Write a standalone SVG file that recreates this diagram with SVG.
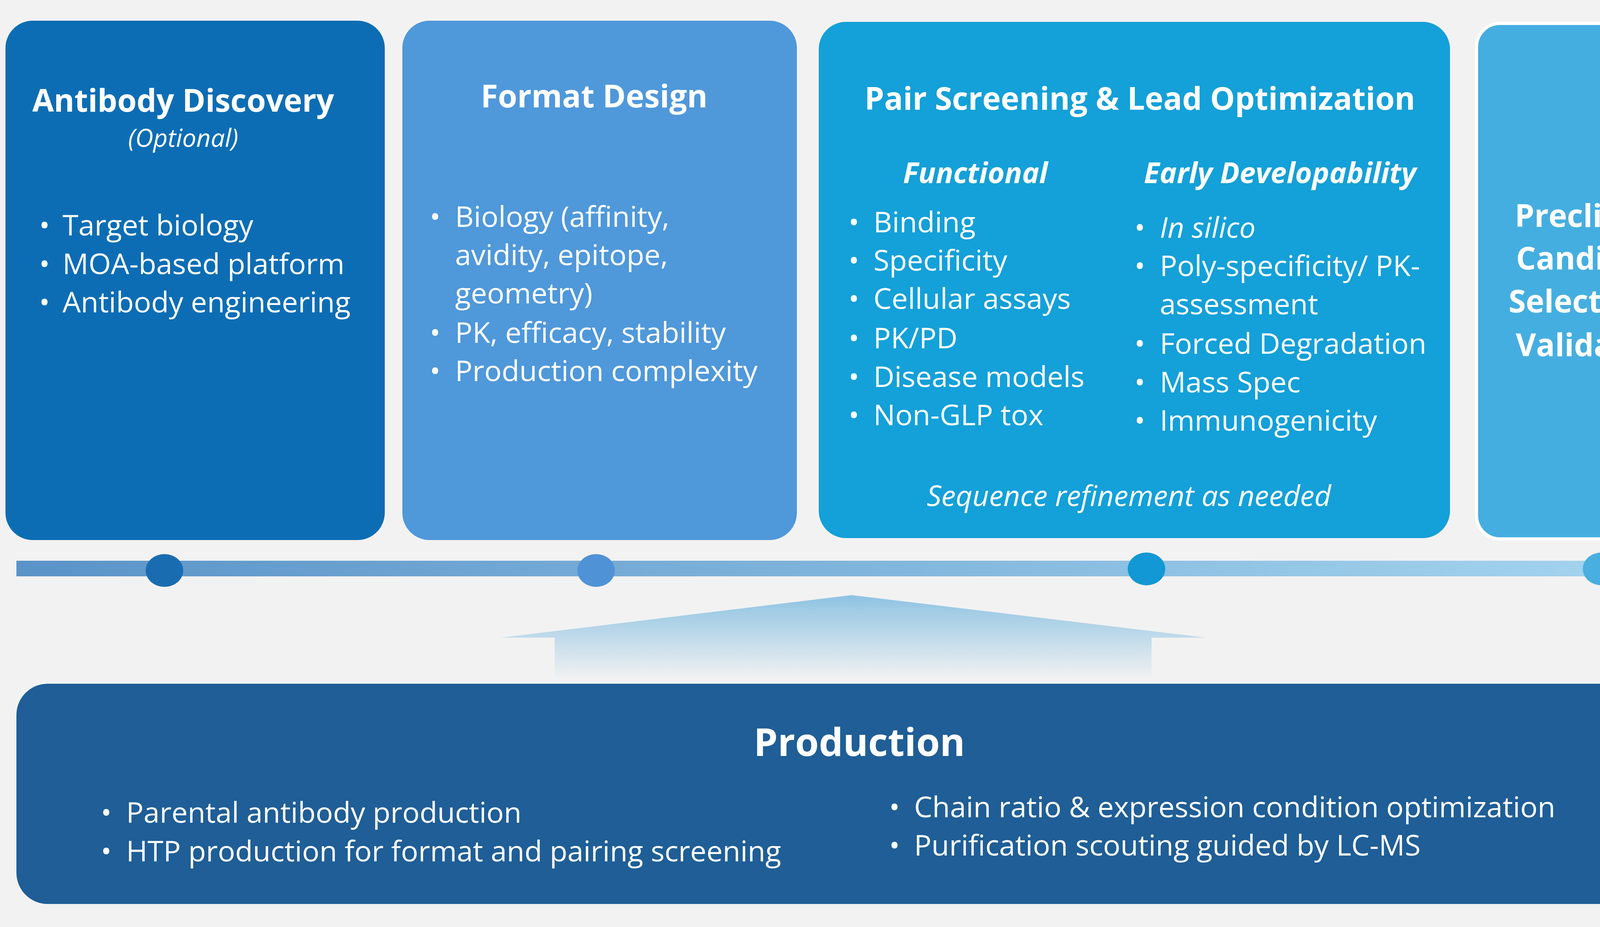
<svg xmlns="http://www.w3.org/2000/svg" width="4400" height="2374" viewBox="0 0 4400 2374">
<style>
text{font-family:"Open Sans","Noto Sans",sans-serif;fill:#fff}
.t{font-weight:bold;font-size:80px;text-anchor:middle}
.b{font-size:74px}
.i{font-style:italic}
.h{font-weight:bold;font-style:italic;font-size:74px;text-anchor:middle}
</style>
<defs>
<linearGradient id="tl" x1="0" x2="1"><stop offset="0" stop-color="#5A93C8"/><stop offset="1" stop-color="#A6D6EF"/></linearGradient>
<linearGradient id="up" x1="0" y1="0" x2="0" y2="1"><stop offset="0" stop-color="#8EC3E2"/><stop offset="1" stop-color="#F2F2F2"/></linearGradient>
</defs>
<rect width="4400" height="2374" fill="#F2F2F2"/>
<g id="connectors">
<rect x="42" y="1436" width="4250" height="40" fill="url(#tl)"/>
<polygon points="4280,1418 4322,1456 4280,1494" fill="#A6D6EF"/>
<ellipse cx="421" cy="1461" rx="48" ry="42" fill="#1A6CB0"/>
<ellipse cx="1526" cy="1461" rx="48" ry="42" fill="#4F93D6"/>
<ellipse cx="2935" cy="1457" rx="48" ry="42" fill="#1298D4"/>
<ellipse cx="4100" cy="1457" rx="48" ry="42" fill="#48AFE0"/>
<polygon points="1282,1633 2180,1524 3087,1633 2948,1633 2948,1740 1420,1740 1420,1633" fill="url(#up)"/>
</g>
<g id="discovery">
<rect x="14" y="53" width="971" height="1330" rx="70" fill="#0D6DB4"/>
<text class="t" x="469" y="286">Antibody Discovery</text>
<text class="b i" x="469" y="376" text-anchor="middle" style="font-size:64px">(Optional)</text>
<text class="b" x="100" y="603">•</text><text class="b" x="160" y="603">Target biology</text>
<text class="b" x="100" y="702">•</text><text class="b" x="160" y="702">MOA-based platform</text>
<text class="b" x="100" y="800">•</text><text class="b" x="160" y="800">Antibody engineering</text>
</g>
<g id="format">
<rect x="1030" y="53" width="1010" height="1330" rx="70" fill="#4F98DA"/>
<text class="t" x="1521" y="275">Format Design</text>
<text class="b" x="1100" y="581">•</text><text class="b" x="1165" y="581">Biology (affinity,</text>
<text class="b" x="1165" y="679">avidity, epitope,</text>
<text class="b" x="1165" y="777">geometry)</text>
<text class="b" x="1100" y="878">•</text><text class="b" x="1165" y="878">PK, efficacy, stability</text>
<text class="b" x="1100" y="976">•</text><text class="b" x="1165" y="976">Production complexity</text>
</g>
<g id="screening">
<rect x="2096" y="56" width="1616" height="1322" rx="70" fill="#14A0D8"/>
<text class="t" x="2918" y="281">Pair Screening &amp; Lead Optimization</text>
<text class="h" x="2497" y="469">Functional</text>
<text class="h" x="3277" y="469">Early Developability</text>
<text class="b" x="2172" y="595">•</text><text class="b" x="2236" y="595">Binding</text>
<text class="b" x="2172" y="693">•</text><text class="b" x="2236" y="693">Specificity</text>
<text class="b" x="2172" y="791">•</text><text class="b" x="2236" y="791">Cellular assays</text>
<text class="b" x="2172" y="892">•</text><text class="b" x="2236" y="892">PK/PD</text>
<text class="b" x="2172" y="991">•</text><text class="b" x="2236" y="991">Disease models</text>
<text class="b" x="2172" y="1089">•</text><text class="b" x="2236" y="1089">Non-GLP tox</text>
<text class="b" x="2904" y="609">•</text><text class="b i" x="2969" y="609">In silico</text>
<text class="b" x="2904" y="707">•</text><text class="b" x="2969" y="707">Poly-specificity/ PK-</text>
<text class="b" x="2969" y="805">assessment</text>
<text class="b" x="2904" y="906">•</text><text class="b" x="2969" y="906">Forced Degradation</text>
<text class="b" x="2904" y="1005">•</text><text class="b" x="2969" y="1005">Mass Spec</text>
<text class="b" x="2904" y="1103">•</text><text class="b" x="2969" y="1103">Immunogenicity</text>
<text class="b i" x="2890" y="1296" text-anchor="middle">Sequence refinement as needed</text>
</g>
<g id="preclinical">
<rect x="3780" y="60" width="610" height="1320" rx="60" fill="#45AEE0" stroke="#fff" stroke-width="8"/>
<text class="t" x="4085" y="581">Preclinical</text>
<text class="t" x="4085" y="690">Candidate</text>
<text class="t" x="4085" y="800">Selection &amp;</text>
<text class="t" x="4085" y="912">Validation</text>
</g>
<g id="production">
<rect x="42" y="1751" width="4313" height="564" rx="80" fill="#1F5E96"/>
<text class="t" x="2200" y="1936" style="font-size:98px">Production</text>
<text class="b" x="258" y="2107">•</text><text class="b" x="323" y="2107">Parental antibody production</text>
<text class="b" x="258" y="2206">•</text><text class="b" x="323" y="2206">HTP production for format and pairing screening</text>
<text class="b" x="2276" y="2093">•</text><text class="b" x="2340" y="2093">Chain ratio &amp; expression condition optimization</text>
<text class="b" x="2276" y="2191">•</text><text class="b" x="2340" y="2191">Purification scouting guided by LC-MS</text>
</g>
</svg>
